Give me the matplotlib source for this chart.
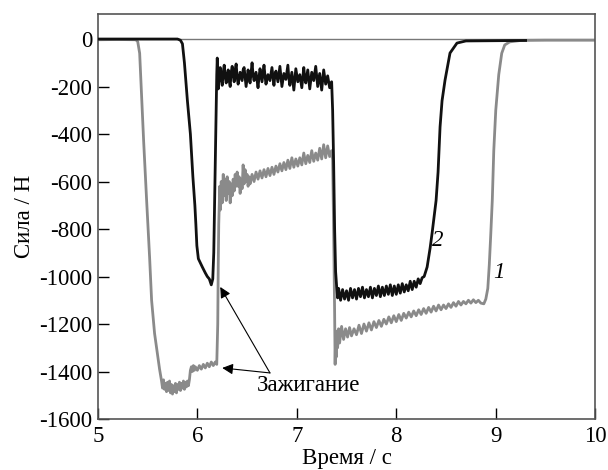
import matplotlib
matplotlib.use("Agg")
import matplotlib.pyplot as plt

GRAY_LINE = "#8a8a8a"
BLACK_LINE = "#111111"

# ── Curve 1 (gray): time [s], force [N] ────────────────────────────────
gray_pts = [
    (5.00, -3), (5.20, -2), (5.38, -3), (5.40, -10), (5.42, -60), (5.44, -250),
    (5.46, -430), (5.49, -680), (5.52, -920), (5.54, -1100), (5.57, -1240),
    (5.60, -1330), (5.62, -1390), (5.64, -1440),
    (5.65, -1470), (5.66, -1435), (5.67, -1475), (5.68, -1450), (5.69, -1485),
    (5.70, -1445), (5.71, -1480), (5.72, -1440), (5.73, -1490), (5.74, -1455),
    (5.75, -1495), (5.76, -1460), (5.77, -1485), (5.78, -1450), (5.79, -1490),
    (5.80, -1455), (5.81, -1475), (5.82, -1445), (5.83, -1480), (5.84, -1450),
    (5.85, -1470), (5.86, -1440), (5.87, -1475), (5.88, -1445), (5.89, -1465),
    (5.90, -1440), (5.91, -1460), (5.92, -1435),
    (5.93, -1395), (5.94, -1380), (5.95, -1400), (5.96, -1375), (5.97, -1395),
    (5.98, -1380), (6.00, -1395), (6.02, -1375), (6.04, -1390), (6.06, -1370),
    (6.08, -1385), (6.10, -1365), (6.12, -1380), (6.14, -1360), (6.16, -1375),
    (6.18, -1360), (6.195, -1370),
    (6.205, -1200), (6.21, -950), (6.215, -780), (6.22, -700),
    (6.225, -620), (6.23, -720), (6.24, -600), (6.25, -690), (6.26, -570),
    (6.27, -660), (6.28, -590), (6.29, -680), (6.30, -580), (6.31, -650),
    (6.32, -600), (6.33, -690), (6.34, -610), (6.35, -660), (6.36, -590),
    (6.37, -640), (6.38, -570), (6.39, -620), (6.40, -560), (6.41, -620),
    (6.42, -580), (6.43, -650), (6.44, -590), (6.45, -630), (6.46, -530),
    (6.47, -610), (6.48, -550), (6.49, -600), (6.50, -570), (6.51, -620),
    (6.52, -580), (6.53, -610), (6.55, -570), (6.57, -600), (6.59, -560),
    (6.61, -590), (6.63, -555), (6.65, -585), (6.67, -550), (6.69, -580),
    (6.71, -545), (6.73, -575), (6.75, -540), (6.77, -570), (6.79, -535),
    (6.81, -560), (6.83, -525), (6.85, -555), (6.87, -520), (6.89, -550),
    (6.91, -510), (6.93, -545), (6.95, -500), (6.97, -540), (6.99, -505),
    (7.01, -535), (7.03, -500), (7.05, -530), (7.07, -480), (7.09, -525),
    (7.11, -490), (7.13, -520), (7.15, -470), (7.17, -515), (7.19, -480),
    (7.21, -510), (7.23, -460), (7.25, -505), (7.27, -445), (7.29, -500),
    (7.31, -450), (7.33, -495), (7.35, -470), (7.36, -510),
    (7.37, -800), (7.38, -1150), (7.385, -1370), (7.39, -1250), (7.395, -1340),
    (7.40, -1230), (7.41, -1300), (7.42, -1220), (7.43, -1280), (7.45, -1210),
    (7.47, -1265), (7.49, -1220), (7.51, -1255), (7.53, -1215), (7.55, -1250),
    (7.575, -1220), (7.60, -1245), (7.625, -1205), (7.65, -1240), (7.675, -1200),
    (7.70, -1230), (7.725, -1195), (7.75, -1225), (7.775, -1190), (7.80, -1215),
    (7.825, -1185), (7.85, -1210), (7.875, -1180), (7.90, -1200), (7.925, -1170),
    (7.95, -1195), (7.975, -1165), (8.00, -1190), (8.025, -1160), (8.05, -1185),
    (8.075, -1155), (8.10, -1175), (8.125, -1150), (8.15, -1170), (8.175, -1145),
    (8.20, -1165), (8.225, -1140), (8.25, -1160), (8.275, -1135), (8.30, -1155),
    (8.325, -1130), (8.35, -1150), (8.375, -1125), (8.40, -1145), (8.425, -1120),
    (8.45, -1140), (8.475, -1120), (8.50, -1135), (8.525, -1115), (8.55, -1130),
    (8.575, -1110), (8.60, -1125), (8.625, -1105), (8.65, -1120), (8.675, -1105),
    (8.70, -1115), (8.725, -1100), (8.75, -1112), (8.775, -1098), (8.80, -1110),
    (8.825, -1100), (8.85, -1112), (8.88, -1115),
    (8.90, -1095), (8.92, -1050), (8.935, -950), (8.95, -820), (8.965, -680),
    (8.98, -470), (9.00, -300), (9.03, -150), (9.06, -60), (9.09, -25),
    (9.14, -12), (9.25, -6), (9.50, -5), (10.00, -5),
]

# ── Curve 2 (black) ────────────────────────────────────────────────────
black_pts = [
    (5.00, 0), (5.50, 0), (5.80, 0), (5.83, -5), (5.85, -20), (5.87, -100),
    (5.90, -260), (5.93, -400), (5.955, -580), (5.975, -700), (5.985, -780),
    (5.995, -870), (6.01, -925), (6.05, -960), (6.08, -985), (6.10, -1000),
    (6.12, -1010), (6.14, -1035), (6.155, -1010), (6.165, -900), (6.175, -650),
    (6.185, -400), (6.195, -150), (6.20, -80),
    (6.21, -210), (6.22, -150), (6.23, -120), (6.24, -170), (6.25, -195),
    (6.26, -140), (6.27, -110), (6.28, -160), (6.29, -185), (6.30, -150),
    (6.31, -130), (6.32, -175), (6.33, -200), (6.34, -140), (6.35, -115),
    (6.37, -180), (6.38, -130), (6.39, -105), (6.40, -160), (6.41, -190),
    (6.43, -140), (6.45, -175), (6.46, -130), (6.47, -120), (6.49, -200),
    (6.51, -130), (6.52, -165), (6.53, -185), (6.55, -100), (6.56, -150),
    (6.57, -175), (6.59, -140), (6.61, -205), (6.62, -160), (6.63, -125),
    (6.65, -180), (6.67, -110), (6.68, -155), (6.69, -190), (6.71, -150),
    (6.73, -175), (6.75, -120), (6.77, -195), (6.78, -150), (6.79, -135),
    (6.81, -180), (6.83, -115), (6.85, -200), (6.87, -145), (6.89, -170),
    (6.91, -110), (6.92, -165), (6.93, -195), (6.95, -140), (6.97, -215),
    (6.99, -125), (7.01, -180), (7.03, -150), (7.05, -205), (7.07, -120),
    (7.08, -165), (7.09, -185), (7.11, -130), (7.13, -210), (7.15, -140),
    (7.17, -175), (7.19, -115), (7.21, -200), (7.23, -145), (7.25, -215),
    (7.27, -130), (7.29, -190), (7.31, -155), (7.33, -205), (7.35, -180),
    (7.36, -300), (7.37, -520), (7.38, -800), (7.39, -980), (7.40, -1040),
    (7.41, -1090), (7.42, -1050), (7.44, -1100), (7.46, -1055), (7.48, -1095),
    (7.50, -1060), (7.52, -1100), (7.54, -1050), (7.56, -1090), (7.58, -1055),
    (7.60, -1095), (7.62, -1050), (7.64, -1085), (7.66, -1045), (7.68, -1090),
    (7.70, -1055), (7.72, -1085), (7.74, -1045), (7.76, -1090), (7.78, -1050),
    (7.80, -1080), (7.82, -1040), (7.84, -1085), (7.86, -1045), (7.88, -1080),
    (7.90, -1040), (7.92, -1075), (7.94, -1035), (7.96, -1080), (7.98, -1040),
    (8.00, -1075), (8.02, -1035), (8.04, -1070), (8.06, -1030), (8.08, -1065),
    (8.10, -1035), (8.12, -1060), (8.14, -1020), (8.16, -1055), (8.18, -1020),
    (8.20, -1045), (8.22, -1010), (8.24, -1030), (8.26, -1005), (8.28, -1000),
    (8.31, -960), (8.34, -880), (8.36, -817), (8.40, -680), (8.42, -560),
    (8.44, -370), (8.46, -260), (8.49, -173), (8.54, -59), (8.61, -17),
    (8.70, -8), (9.30, -6),
]

X_TICKS = [5, 6, 7, 8, 9, 10]
Y_TICKS = [0, -200, -400, -600, -800, -1000, -1200, -1400, -1600]

plt.rcParams["font.family"] = ["Liberation Serif", "DejaVu Serif"]
FS = 16.5

fig = plt.figure(figsize=(6.08, 4.70), dpi=100)
ax = fig.add_axes([0.161, 0.1085, 0.818, 0.8615])

gt, gf = zip(*gray_pts)
bt, bf = zip(*black_pts)

ax.axhline(0, color="#777777", lw=1.0, zorder=1)
ax.plot(gt, gf, color=GRAY_LINE, lw=2.0, zorder=2)
ax.plot(bt, bf, color=BLACK_LINE, lw=2.0, zorder=3)

ax.set_xlim(5, 10)
ax.set_ylim(-1600, 105)
ax.set_xticks(X_TICKS)
ax.set_yticks(Y_TICKS)
ax.set_yticklabels([str(v) for v in Y_TICKS])
ax.tick_params(direction="in", length=8, width=1.0, labelsize=FS,
               top=False, right=False)
ax.tick_params(axis="x", pad=5)
ax.tick_params(axis="y", pad=4)
for sp in ax.spines.values():
    sp.set_color("#555555")
    sp.set_linewidth(1.2)

ax.set_xlabel("Время / с", fontsize=FS, labelpad=1)
ax.set_ylabel("Сила / Н", fontsize=FS, labelpad=3)

# curve numbers
ax.text(8.42, -850, "2", fontsize=FS, style="italic", ha="center", va="center")
ax.text(9.03, -985, "1", fontsize=FS, style="italic", ha="center", va="center")

# ignition annotation
ax.text(7.12, -1458, "Зажигание", fontsize=FS, ha="center", va="center")
tail = (6.73, -1406)
for head in [(6.23, -1044), (6.25, -1385)]:
    ax.annotate("", xy=head, xytext=tail,
                arrowprops=dict(arrowstyle="-|>", color="black", lw=0.8,
                                mutation_scale=16, shrinkA=0, shrinkB=0))

fig.savefig("out.png", dpi=100)
